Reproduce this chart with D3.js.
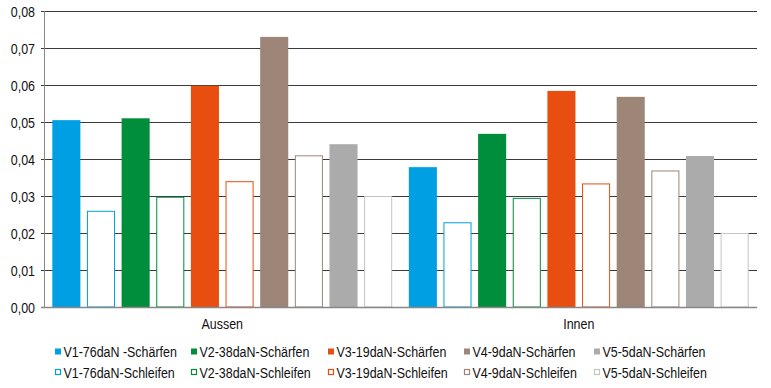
<!DOCTYPE html>
<html>
<head>
<meta charset="utf-8">
<title>Schärfen / Schleifen</title>
<style>
  body { margin: 0; background: #fff; }
  text { font-family: "Liberation Sans", Arial, sans-serif; fill: #111; }
</style>
</head>
<body>
<script src="https://d3js.org/d3.v7.min.js"></script>
<script>
// categories on x
var categories = ["Aussen", "Innen"];
// series, in bar order
var seriesNames = ["V1-76daN -Schärfen", "V1-76daN-Schleifen", "V2-38daN-Schärfen", "V2-38daN-Schleifen",
                   "V3-19daN-Schärfen", "V3-19daN-Schleifen", "V4-9daN-Schärfen", "V4-9daN-Schleifen",
                   "V5-5daN-Schärfen", "V5-5daN-Schleifen"];
var seriesFilled = [true, false, true, false, true, false, true, false, true, false];
var seriesColors = ["#009fe3", "#009fe3", "#008d3c", "#008d3c", "#e84e10", "#e84e10",
                    "#9d8577", "#9d8577", "#ababab", "#c4c4c4"];
var valuesAussen = [0.0505, 0.026, 0.051, 0.0298, 0.0598, 0.034, 0.073, 0.041, 0.044, 0.030];
var valuesInnen  = [0.0378, 0.0229, 0.0468, 0.0295, 0.0584, 0.0334, 0.0568, 0.0369, 0.0408, 0.020];
var yTicks = [0, 0.01, 0.02, 0.03, 0.04, 0.05, 0.06, 0.07, 0.08];

var width = 771, height = 388;
var squeeze = 0.83; // condensed look
var svg = d3.select("body").append("svg").attr("width", width).attr("height", height);

function label(g, x, y, txt, anchor) {
    return g.append("text")
        .attr("transform", "translate(" + x + "," + y + ") scale(" + squeeze + ",1)")
        .attr("text-anchor", anchor || "start")
        .attr("font-size", "15px")
        .text(txt);
}

var x0 = d3.scaleBand().domain(categories).range([44, 757]);
var x1 = d3.scaleBand().domain(d3.range(seriesNames.length))
    .range([0, x0.bandwidth()]).paddingInner(0.19).paddingOuter(0.24);
var y = d3.scaleLinear().domain([0, 0.08]).range([307, 11]);
var fmt = function (d) { return d3.format(".2f")(d).replace(".", ","); };

// gridlines
svg.append("g").selectAll("line").data(yTicks.slice(1)).enter().append("line")
    .attr("x1", 41).attr("x2", 757)
    .attr("y1", function (d) { return Math.round(y(d)) + 0.5; })
    .attr("y2", function (d) { return Math.round(y(d)) + 0.5; })
    .attr("stroke", "#3a3a3a").attr("stroke-width", 1);

// tick labels
var tg = svg.append("g");
yTicks.forEach(function (t) { label(tg, 35, y(t) + 5.5, fmt(t), "end"); });

// bars
var data = [valuesAussen, valuesInnen];
categories.forEach(function (cat, ci) {
    var g = svg.append("g").attr("transform", "translate(" + x0(cat) + ",0)");
    g.selectAll("rect").data(data[ci]).enter().append("rect")
        .attr("x", function (d, i) { return x1(i) + (seriesFilled[i] ? 0 : 0.5); })
        .attr("y", function (d, i) { return y(d) + (seriesFilled[i] ? 0 : 0.5); })
        .attr("width", function (d, i) { return x1.bandwidth() - (seriesFilled[i] ? 0 : 1); })
        .attr("height", function (d, i) { return y(0) - y(d) - (seriesFilled[i] ? 0 : 0.5); })
        .attr("fill", function (d, i) { return seriesFilled[i] ? seriesColors[i] : "#fff"; })
        .attr("stroke", function (d, i) { return seriesFilled[i] ? "none" : seriesColors[i]; })
        .attr("stroke-width", 1);
    label(svg, x0(cat) + x0.bandwidth() / 2, 328.5, cat, "middle");
});

// axes lines
svg.append("line").attr("x1", 41).attr("x2", 757).attr("y1", 307.5).attr("y2", 307.5)
    .attr("stroke", "#888").attr("stroke-width", 1.5);
svg.append("line").attr("x1", 44.5).attr("x2", 44.5).attr("y1", 11).attr("y2", 308)
    .attr("stroke", "#888").attr("stroke-width", 1);

// legend
var legendX = [55, 191, 328, 464, 594];
var legendY = [356.5, 378];
var legend = svg.append("g");
seriesNames.forEach(function (name, i) {
    var col = Math.floor(i / 2), row = i % 2;
    var ly = legendY[row];
    if (seriesFilled[i]) {
        legend.append("rect").attr("x", legendX[col]).attr("y", ly - 8)
            .attr("width", 6).attr("height", 6).attr("fill", seriesColors[i]);
    } else {
        legend.append("rect").attr("x", legendX[col] + 0.5).attr("y", ly - 8.5)
            .attr("width", 5).attr("height", 5).attr("fill", "#fff")
            .attr("stroke", seriesColors[i]).attr("stroke-width", 1.2);
    }
    label(legend, legendX[col] + 8.5, ly, name);
});
</script>
</body>
</html>
